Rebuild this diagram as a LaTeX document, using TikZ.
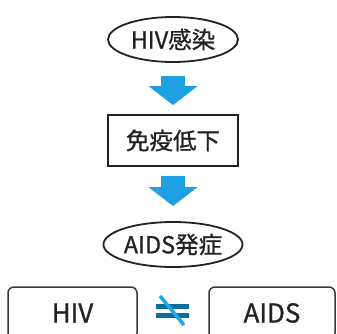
\documentclass[tikz,border=0pt]{standalone}
\usepackage{fontspec}
\setmainfont[FakeBold=0.9]{Noto Sans CJK JP}
\usetikzlibrary{shapes.geometric,arrows.meta}
\definecolor{arrowblue}{HTML}{1DA1E2}
\definecolor{bardark}{HTML}{0B6E9B}
\definecolor{slashblue}{HTML}{1EA8E8}
\definecolor{ink}{HTML}{222222}
\tikzset{
  oval/.style={ellipse,draw=ink,line width=1.8pt,inner sep=0pt,minimum width=130pt,minimum height=45pt,text=ink,font=\fontsize{23.5}{23.5}\selectfont},
  stepbox/.style={rectangle,draw=ink,line width=1.8pt,inner sep=0pt,minimum width=130pt,minimum height=51pt,text=ink,font=\fontsize{23.5}{23.5}\selectfont},
  termbox/.style={rectangle,rounded corners=6pt,draw=ink!90,line width=1.5pt,inner sep=0pt,minimum height=52pt,text=ink,font=\fontsize{26}{26}\selectfont},
  bigarrow/.style={draw=arrowblue,line width=24pt,line cap=butt,-{Triangle[width=48pt,length=19pt,fill=arrowblue]}}
}
\begin{document}
\begin{tikzpicture}[x=1pt,y=-1pt]
\useasboundingbox (0,0) rectangle (337,334);
\clip (0,0) rectangle (337,334);
\node[oval] (e1) at (173,39.5) {HIV感染};
\node[stepbox] (r2) at (173,140.5) {免疫低下};
\node[oval,minimum width=128pt] (e3) at (173,244.5) {AIDS発症};
\draw[bigarrow,shorten <=13pt,shorten >=9pt] (e1.south) -- (r2.north);
\draw[bigarrow,shorten <=9pt,shorten >=15pt] (r2.south) -- (e3.north);
\node[termbox,minimum width=129pt] (b1) at (72.5,313) {HIV};
\node[termbox,minimum width=126pt] (b2) at (272,313) {AIDS};
\coordinate (neq) at (172.5,311);
\draw[bardark,line width=4.5pt] ([xshift=-16.5pt,yshift=-4.7pt]neq) -- ([xshift=16.5pt,yshift=-4.7pt]neq);
\draw[bardark,line width=4.5pt] ([xshift=-16.5pt,yshift=4.5pt]neq) -- ([xshift=16.5pt,yshift=4.5pt]neq);
\draw[slashblue,line width=3.5pt] ([xshift=-12.5pt,yshift=15pt]neq) -- ([xshift=11.5pt,yshift=-14pt]neq);
\end{tikzpicture}
\end{document}
